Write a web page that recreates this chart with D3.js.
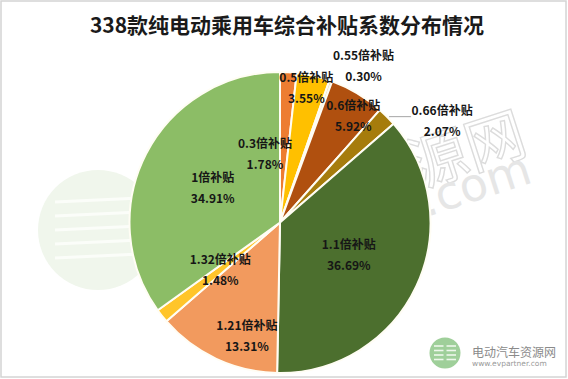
<!DOCTYPE html>
<html>
<head>
<meta charset="utf-8">
<script src="https://cdn.jsdelivr.net/npm/d3@7"></script>
<style>
  html, body { margin: 0; padding: 0; background: #fff; }
  svg { display: block; }
</style>
</head>
<body>
<div id="chart"></div>
<script>
// slices clockwise from 12 o'clock, as in the source chart
const categories = ['0.3倍补贴', '0.5倍补贴', '0.55倍补贴', '0.6倍补贴', '0.66倍补贴',
  '1.1倍补贴', '1.21倍补贴', '1.32倍补贴', '1倍补贴']
const shares = [1.78, 3.55, 0.30, 5.92, 2.07, 36.69, 13.31, 1.48, 34.91]
const sliceColors = ['#ED7D31', '#FFC000', '#E9DDB8', '#B0500F', '#A67C0C',
  '#4C6F2E', '#F29A5E', '#FFC52A', '#8CBD66']
// hand-placed label spots (offset from pie centre, in radius units)
const labelSpots = [[-0.10, -0.453], [0.175, -0.893], [0.555, -1.041], [0.487, -0.707],
  [1.077, -0.670], [0.457, 0.220], [-0.220, 0.759], [-0.397, 0.320], [-0.447, -0.227]]
const leaderFor = ['0.55倍补贴', '0.66倍补贴']

const W = 568
const H = 379
const cx = 280
const cy = 222.5
const R = 150.5

const svg = d3.select('#chart').append('svg')
  .attr('width', W)
  .attr('height', H)

svg.append('rect')
  .attr('x', 1).attr('y', 1)
  .attr('width', W - 3).attr('height', H - 3)
  .attr('fill', '#fff')
  .attr('stroke', '#d4d4d4')
  .attr('stroke-width', 1.5)

// faint watermark behind the pie
const wm = svg.append('g').attr('class', 'watermark')
wm.append('circle')
  .attr('cx', 98).attr('cy', 230).attr('r', 60)
  .attr('fill', '#f0f6ec')
wm.selectAll('line.wl')
  .data([-28, -14, 0, 14, 28])
  .join('line')
  .attr('x1', 55).attr('x2', 140)
  .attr('y1', (d) => 230 + d).attr('y2', (d) => 226 + d)
  .attr('stroke', '#fbfdf9')
  .attr('stroke-width', 3)
wm.append('text')
  .attr('transform', 'translate(530,152) rotate(-18)')
  .attr('text-anchor', 'end')
  .attr('font-family', 'Noto Sans CJK SC')
  .attr('font-size', 60)
  .attr('fill', 'none')
  .attr('stroke', '#dcdcdc')
  .attr('stroke-width', 1.4)
  .text('资源网')
wm.append('text')
  .attr('transform', 'translate(534,182) rotate(-18)')
  .attr('text-anchor', 'end')
  .attr('font-family', 'DejaVu Sans')
  .attr('font-size', 46)
  .attr('fill', '#e6e6e6')
  .text('evpartner.com')

// title
svg.append('text')
  .attr('x', 287)
  .attr('y', 33)
  .attr('text-anchor', 'middle')
  .attr('font-family', 'Noto Sans CJK SC')
  .attr('font-weight', 'bold')
  .attr('font-size', 21)
  .attr('fill', '#1a1a1a')
  .text('338款纯电动乘用车综合补贴系数分布情况')

const data = categories.map((name, i) => ({ name, value: shares[i], color: sliceColors[i], spot: labelSpots[i] }))

const pie = d3.pie().sort(null).value((d) => d.value).startAngle(0).endAngle(2 * Math.PI)
const arc = d3.arc().innerRadius(0).outerRadius(R)
const arcs = pie(data)

const g = svg.append('g').attr('transform', `translate(${cx},${cy})`)

g.selectAll('path')
  .data(arcs)
  .join('path')
  .attr('d', arc)
  .attr('fill', (d) => d.data.color)
  .attr('stroke', '#fffdf4')
  .attr('stroke-width', 2)
  .attr('stroke-linejoin', 'round')

const fmt = (v) => d3.format('.2f')(v) + '%'
const labelPos = (d) => [d.data.spot[0] * R, d.data.spot[1] * R]

// leader lines for the two outside labels
const outerPt = d3.arc().innerRadius(R).outerRadius(R)
g.selectAll('line.leader')
  .data(arcs.filter((d) => leaderFor.includes(d.data.name)))
  .join('line')
  .attr('class', 'leader')
  .attr('x1', (d) => outerPt.centroid(d)[0] + 2)
  .attr('y1', (d) => outerPt.centroid(d)[1])
  .attr('x2', (d) => labelPos(d)[0] - 31)
  .attr('y2', (d) => outerPt.centroid(d)[1])
  .attr('stroke', '#a6a6a6')
  .attr('stroke-width', 1)

const labels = g.selectAll('g.lbl')
  .data(arcs)
  .join('g')
  .attr('class', 'lbl')
  .attr('transform', (d) => `translate(${labelPos(d)[0]},${labelPos(d)[1]})`)
  .attr('font-family', 'Noto Sans CJK SC')
  .attr('font-weight', 'bold')
  .attr('font-size', 12)
  .attr('fill', '#161616')
  .attr('text-anchor', 'middle')

labels.append('text')
  .attr('y', -10.5)
  .attr('dy', '0.35em')
  .text((d) => d.data.name)

labels.append('text')
  .attr('y', 10.5)
  .attr('dy', '0.35em')
  .text((d) => fmt(d.data.value))

// site logo, bottom right
const logo = svg.append('g').attr('transform', 'translate(445,353)')
logo.append('circle').attr('r', 15.5).attr('fill', '#9fcf9a')
logo.selectAll('line')
  .data([-7, -2.5, 2, 6.5])
  .join('line')
  .attr('x1', -11).attr('x2', 11)
  .attr('y1', (d) => d).attr('y2', (d) => d)
  .attr('stroke', '#eef7ec')
  .attr('stroke-width', 1.6)
logo.append('line')
  .attr('x1', 0).attr('x2', 0).attr('y1', -13).attr('y2', 13)
  .attr('stroke', '#9fcf9a').attr('stroke-width', 3)
logo.append('text')
  .attr('x', 27).attr('y', 4)
  .attr('font-family', 'Noto Sans CJK SC')
  .attr('font-size', 12)
  .attr('fill', '#8a8a8a')
  .text('电动汽车资源网')
logo.append('text')
  .attr('x', 27).attr('y', 13)
  .attr('font-family', 'DejaVu Sans')
  .attr('font-size', 7.5)
  .attr('fill', '#9a9a9a')
  .text('www.evpartner.com')
</script>
</body>
</html>
